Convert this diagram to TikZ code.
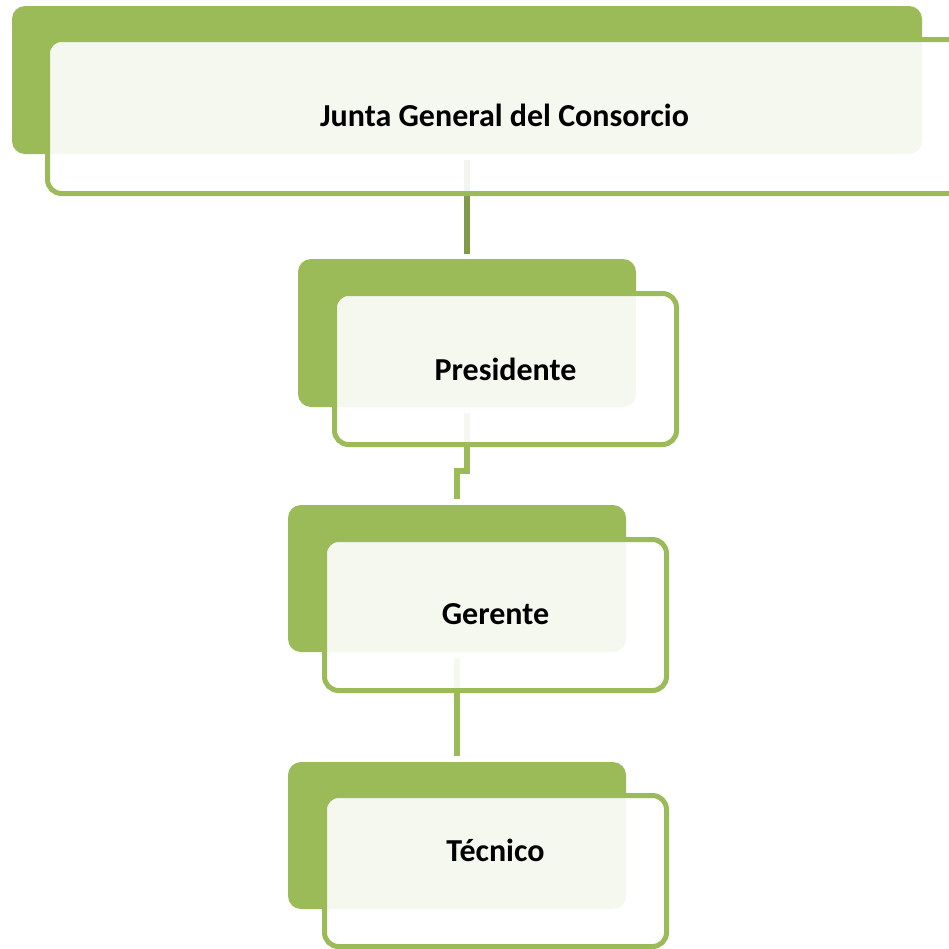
\documentclass[tikz,border=0pt]{standalone}
\usepackage{fontspec}
\setmainfont{Carlito}
\definecolor{accgreen}{HTML}{9BBB59}
\definecolor{darkgreen}{HTML}{7F9A48}
\begin{document}
\begin{tikzpicture}[x=1pt,y=-1pt,
  backbox/.style={rectangle, rounded corners=13pt, fill=accgreen, draw=none, outer sep=0pt, inner sep=0pt},
  frontbox/.style={rectangle, rounded corners=14pt, fill=white, fill opacity=0.9, draw=accgreen, draw opacity=1, line width=5pt, outer sep=0pt, inner sep=0pt},
  conn/.style={line width=6pt, draw=accgreen},
  label/.style={font=\bfseries\fontsize{32}{38}\selectfont, text=black, inner sep=0pt}]
\useasboundingbox (0,0) rectangle (949,948);
\clip (0,0) rectangle (949,948);
% back boxes
\node[backbox, minimum width=910pt, minimum height=148pt] (jb) at (467,80) {};
\node[backbox, minimum width=338pt, minimum height=148pt] (pb) at (467,333) {};
\node[backbox, minimum width=338pt, minimum height=147pt] (gb) at (457,578.5) {};
\node[backbox, minimum width=338pt, minimum height=147pt] (tb) at (457,835.5) {};
% connectors
\draw[conn, draw=darkgreen, shorten <=6pt, shorten >=5pt] (jb.south) -- (pb.north);
\draw[conn, shorten <=6pt, shorten >=6pt] (pb.south) -- ++(0,64) -| (gb.north);
\draw[conn, shorten <=6pt, shorten >=6pt] (gb.south) -- (tb.north);
% front boxes
\node[frontbox, minimum width=914pt, minimum height=154pt] (jf) at (504.5,116.5) {};
\node[frontbox, minimum width=342pt, minimum height=151pt] (pf) at (505.5,369) {};
\node[frontbox, minimum width=342pt, minimum height=151pt] (gf) at (495.5,615) {};
\node[frontbox, minimum width=342pt, minimum height=151pt] (tf) at (495.5,871) {};
% labels
\node[label] (jt) at (504.5,115) {Junta General del Consorcio};
\node[label] (pt) at (505.5,369) {Presidente};
\node[label] (gt) at (495.5,614) {Gerente};
\node[label] (tt) at (495.5,850) {Técnico};
\end{tikzpicture}
\end{document}
